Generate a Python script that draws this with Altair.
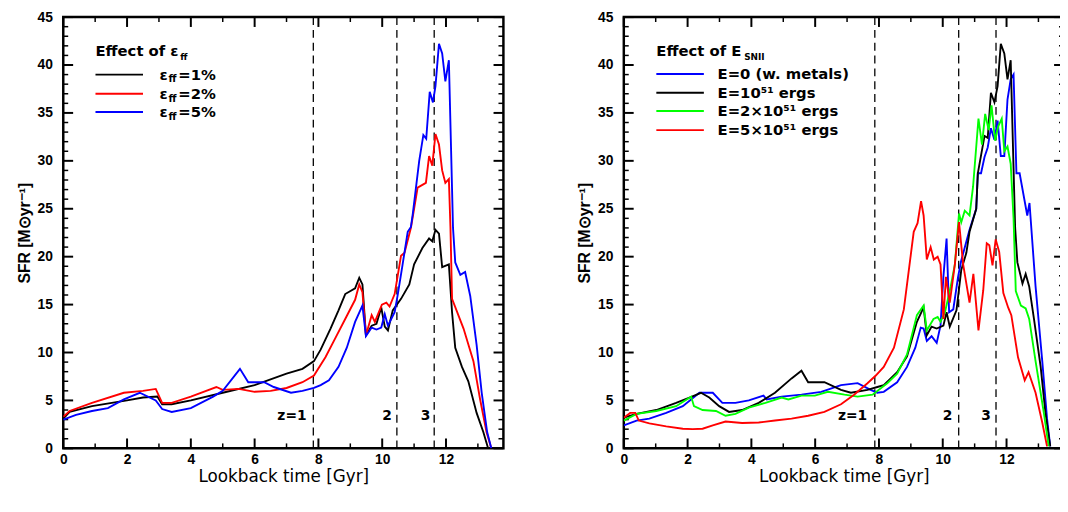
import altair as alt
import pandas as pd

# ---------------- data: left panel (effect of eps_ff) ----------------
t_eff1 = [0.0, 0.2, 0.9, 2.0, 2.5, 2.95, 3.1, 3.4, 4.0, 5.0, 6.0, 7.0, 7.5, 7.86, 8.07, 8.38, 8.63, 8.84,
          9.15, 9.28, 9.38, 9.49, 9.67, 9.82, 9.97, 10.08, 10.18, 10.33, 10.59, 10.85, 11.0, 11.26, 11.47,
          11.57, 11.67, 11.78, 11.88, 12.09, 12.19, 12.29, 12.5, 12.7, 12.96, 13.17, 13.32]
sfr_eff1 = [3.1, 3.8, 4.4, 5.0, 5.3, 5.4, 4.6, 4.6, 5.0, 5.8, 6.6, 7.8, 8.3, 9.1, 10.3, 12.5, 14.4, 16.1,
            16.7, 17.8, 17.1, 11.8, 12.8, 13.0, 14.7, 12.7, 12.3, 14.4, 15.6, 17.1, 19.2, 20.9, 21.9,
            21.6, 22.8, 22.4, 18.9, 19.2, 14.2, 10.5, 8.5, 7.0, 3.7, 1.7, 0.0]

t_eff2 = [0.0, 0.2, 0.9, 1.9, 2.5, 2.9, 3.1, 3.4, 4.0, 4.8, 5.0, 5.5, 6.0, 6.5, 7.0, 7.5, 7.86, 8.22, 8.53,
          8.84, 9.15, 9.28, 9.38, 9.49, 9.67, 9.77, 9.99, 10.13, 10.23, 10.39, 10.49, 10.59, 10.7, 10.9,
          11.0, 11.11, 11.37, 11.47, 11.57, 11.67, 11.78, 11.88, 11.98, 12.09, 12.14, 12.19, 12.55, 12.86,
          13.07, 13.27, 13.42]
sfr_eff2 = [3.3, 3.9, 4.75, 5.8, 6.0, 6.2, 4.75, 4.75, 5.4, 6.4, 6.1, 6.2, 5.9, 6.0, 6.3, 6.9, 7.6, 9.5, 11.5,
            13.5, 15.5, 17.1, 16.3, 11.8, 13.9, 13.2, 15.0, 15.2, 14.8, 16.1, 18.1, 20.1, 20.4, 23.0,
            25.0, 27.2, 27.7, 30.5, 29.5, 32.8, 31.7, 29.0, 27.7, 28.1, 23.0, 15.6, 12.5, 9.1,
            5.1, 1.7, 0.0]

t_eff5 = [0.0, 0.4, 0.9, 1.4, 1.9, 2.4, 2.9, 3.1, 3.4, 4.0, 4.7, 5.0, 5.54, 5.8, 6.3, 6.6, 7.14, 7.5, 7.86,
          8.07, 8.33, 8.63, 8.89, 9.15, 9.38, 9.49, 9.67, 9.82, 9.97, 10.08, 10.18, 10.39, 10.49, 10.64,
          10.8, 10.9, 10.96, 11.16, 11.29, 11.38, 11.49, 11.59, 11.67, 11.78, 11.88, 11.98, 12.09, 12.22,
          12.29, 12.45, 12.6, 12.76, 12.96, 13.12, 13.29, 13.42]
sfr_eff5 = [3.0, 3.5, 3.9, 4.2, 5.1, 5.8, 5.0, 4.1, 3.8, 4.2, 5.4, 6.0, 8.3, 6.9, 6.9, 6.4, 5.8, 6.0, 6.3,
            6.6, 7.1, 8.5, 10.5, 13.2, 14.9, 11.7, 12.6, 12.4, 12.6, 14.0, 12.8, 14.2, 16.1, 19.2,
            22.6, 23.1, 24.5, 30.0, 32.7, 32.3, 37.2, 36.1, 37.8, 42.2, 41.2, 38.3, 40.5, 23.0,
            19.4, 18.1, 18.4, 15.9, 10.8, 5.8, 1.7, 0.0]

# ---------------- data: right panel (effect of E_SNII) ----------------
t_e0 = [0.0, 0.4, 0.8, 1.33, 1.85, 2.37, 2.79, 3.09, 3.5, 3.92, 4.38, 4.48, 4.95, 5.57, 6.19, 6.81, 7.33,
        7.74, 7.95, 8.15, 8.57, 8.88, 9.14, 9.31, 9.4, 9.5, 9.65, 9.81, 9.93, 10.02, 10.12, 10.2, 10.33,
        10.48, 10.58, 10.84, 11.05, 11.1, 11.2, 11.31, 11.41, 11.51, 11.62, 11.72, 11.82, 11.93, 12.03,
        12.13, 12.22, 12.31, 12.41, 12.65, 12.72, 12.91, 13.12, 13.27, 13.37]
sfr_e0 = [2.4, 2.9, 3.1, 3.7, 4.4, 5.8, 5.8, 4.75, 4.75, 5.0, 5.5, 5.1, 5.4, 5.6, 5.9, 6.6, 6.8,
          6.1, 5.8, 5.9, 6.9, 8.5, 10.5, 12.6, 12.5, 11.2, 11.7, 11.0, 12.8, 17.9, 21.9, 14.2, 14.5,
          17.9, 19.6, 22.8, 25.0, 28.7, 28.7, 30.4, 31.4, 33.4, 32.2, 34.2, 30.5, 30.5, 36.4,
          38.5, 39.0, 28.7, 28.7, 24.3, 25.6, 16.9, 9.1, 3.1, 0.2]

t_e1 = [0.0, 0.4, 1.02, 1.64, 2.06, 2.42, 2.68, 2.99, 3.3, 3.71, 4.23, 4.74, 5.26, 5.57, 5.78, 6.29, 6.81,
        7.12, 7.64, 7.95, 8.15, 8.57, 8.88, 9.19, 9.4, 9.5, 9.65, 9.81, 10.02, 10.12, 10.22, 10.43, 10.58,
        10.74, 10.84, 11.05, 11.1, 11.31, 11.41, 11.51, 11.62, 11.72, 11.82, 11.93, 12.03, 12.13, 12.27,
        12.34, 12.5, 12.6, 12.71, 12.86, 13.07, 13.22, 13.37]
sfr_e1 = [3.2, 3.6, 4.0, 4.75, 5.3, 5.8, 5.3, 4.4, 3.8, 4.0, 4.75, 5.8, 7.3, 8.1, 6.9, 6.9, 6.1,
          5.8, 6.1, 6.4, 6.6, 7.95, 9.6, 13.2, 14.7, 11.8, 12.7, 12.5, 12.8, 14.2, 12.7, 14.4, 18.6,
          20.4, 22.6, 25.0, 28.7, 32.6, 32.4, 37.1, 36.1, 37.8, 42.2, 41.2, 38.5, 40.5, 23.0,
          19.4, 17.2, 18.2, 16.9, 13.5, 8.5, 3.7, 0.2]

t_e2 = [0.0, 0.4, 1.02, 1.64, 2.11, 2.2, 2.47, 2.89, 3.19, 3.5, 3.92, 4.44, 4.95, 5.16, 5.57, 5.99, 6.4,
        6.92, 7.33, 7.8, 8.26, 8.57, 8.88, 9.19, 9.4, 9.5, 9.71, 9.84, 9.93, 10.07, 10.25, 10.38, 10.51,
        10.58, 10.69, 10.84, 10.95, 11.12, 11.23, 11.33, 11.44, 11.53, 11.64, 11.74, 11.85, 11.93, 12.03,
        12.13, 12.22, 12.29, 12.45, 12.6, 12.71, 12.91, 13.17, 13.32]
sfr_e2 = [2.9, 3.6, 3.9, 4.4, 5.4, 4.4, 4.0, 3.9, 3.4, 3.6, 4.25, 4.75, 5.3, 5.1, 5.5, 5.5, 5.9,
          5.6, 5.4, 5.6, 6.8, 7.8, 9.8, 13.9, 14.9, 12.3, 13.5, 13.7, 13.2, 14.2, 16.9, 19.2, 24.5,
          23.6, 24.8, 24.3, 27.3, 34.4, 31.7, 34.9, 33.2, 35.8, 32.1, 33.6, 34.4, 31.0, 31.5,
          29.7, 24.0, 16.4, 14.9, 14.6, 13.5, 9.1, 3.7, 0.2]

t_e5 = [0.0, 0.2, 0.36, 0.47, 0.8, 1.33, 1.85, 2.16, 2.47, 2.79, 3.19, 3.71, 4.23, 4.74, 5.26, 5.78, 6.29,
        6.81, 7.22, 7.64, 7.9, 8.15, 8.47, 8.78, 9.09, 9.21, 9.32, 9.4, 9.5, 9.62, 9.72, 9.84, 9.93,
        10.02, 10.1, 10.22, 10.38, 10.51, 10.64, 10.84, 10.96, 11.12, 11.27, 11.38, 11.46, 11.56, 11.66,
        11.77, 11.9, 12.05, 12.15, 12.36, 12.57, 12.69, 12.91, 13.12, 13.27]
sfr_e5 = [3.2, 3.7, 3.7, 2.9, 2.6, 2.3, 2.05, 2.0, 2.05, 2.4, 2.8, 2.65, 2.7, 2.9, 3.1, 3.4, 3.8,
          4.6, 5.6, 6.8, 7.6, 8.5, 10.5, 14.5, 22.6, 23.5, 25.8, 24.3, 19.7, 21.0, 19.7, 20.0, 19.2,
          13.5, 17.9, 15.2, 19.2, 23.6, 19.2, 15.2, 18.2, 12.3, 16.5, 21.4, 21.2, 19.1, 21.8,
          20.5, 16.2, 14.7, 13.9, 9.5, 7.1, 7.95, 5.8, 2.7, 0.2]

# redshift markers
z_label_t = [7.17, 10.15, 11.36]
z_labels = ["z=1", "2", "3"]

# ticks
x_major = [0, 2, 4, 6, 8, 10, 12]
x_minor = [1, 3, 5, 7, 9, 11, 13]
y_major = [0, 5, 10, 15, 20, 25, 30, 35, 40, 45]
y_minor = [v for v in range(1, 45) if v % 5 != 0]

H = 437
YMAX = 45.0
W_L, XMAX_L = 446, 13.8
W_R, XMAX_R = 446, 13.8

LEG_FONT = "DejaVu Sans"

xaxis = alt.Axis(values=x_major, ticks=False, domain=False, grid=False, format="d",
                 labelFont="Liberation Sans Narrow, Liberation Sans", labelFontSize=14,
                 labelFontWeight="bold", labelColor="black", labelPadding=4, labelFlush=False,
                 title="Lookback time [Gyr]", titleFont="DejaVu Sans", titleFontSize=17,
                 titleFontWeight="normal", titleColor="black", titlePadding=3)
yaxis = alt.Axis(values=y_major, ticks=False, domain=False, grid=False, format="d",
                 labelFont="Liberation Sans", labelFontSize=14, labelFontWeight="bold",
                 labelColor="black", labelPadding=11, labelFlush=False,
                 title="SFR [M⊙yr⁻¹]", titleFont="Liberation Sans", titleFontSize=16,
                 titleFontWeight="bold", titleColor="black", titlePadding=5)
y_scale = alt.Scale(domain=[0, YMAX], nice=False)


def make_panel(W, XMAX, series, zlines, legend_spec):
    x_scale = alt.Scale(domain=[0, XMAX], nice=False, zero=False)
    X = lambda f: alt.X(f, type="quantitative", scale=x_scale, axis=xaxis)
    Y = lambda f: alt.Y(f, type="quantitative", scale=y_scale, axis=yaxis)
    XU = XMAX / W
    YU = YMAX / H
    layers = []

    # inward ticks on all four sides, drawn as short line segments
    for L, sw in [(10, 2.0), (5, 1.5)]:
        xs = x_major if L == 10 else x_minor
        ys = y_major if L == 10 else y_minor
        rows = []
        k = 0
        for v in xs:
            rows += [(k, v, 0.0), (k, v, L * YU)]; k += 1
            rows += [(k, v, YMAX), (k, v, YMAX - L * YU)]; k += 1
        for v in ys:
            rows += [(k, 0.0, v), (k, L * XU, v)]; k += 1
            rows += [(k, XMAX, v), (k, XMAX - L * XU, v)]; k += 1
        d = pd.DataFrame(rows, columns=["tid", "t", "sfr"])
        layers.append(alt.Chart(d).mark_line(color="black", strokeWidth=sw, strokeCap="butt").encode(
            x=X("t"), y=Y("sfr"), detail="tid:N"))

    # redshift markers
    dl = pd.DataFrame({"t": zlines})
    layers.append(alt.Chart(dl).mark_rule(color="black", strokeWidth=1.3, strokeDash=[8, 5]).encode(
        x=X("t")))
    dt = pd.DataFrame({"t": z_label_t, "sfr": [3.4] * 3, "lab": z_labels})
    layers.append(alt.Chart(dt).mark_text(font=LEG_FONT, fontSize=14, fontWeight="bold", color="black",
                                          align="center", baseline="middle").encode(
        x=X("t"), y=Y("sfr"), text="lab:N"))

    # data curves
    for ts, vs, col in series:
        df = pd.DataFrame({"t": ts, "sfr": vs})
        layers.append(alt.Chart(df).mark_line(color=col, strokeWidth=1.9, clip=True).encode(
            x=X("t"), y=Y("sfr")))

    # legend
    (title_main, title_sub, sub_dx, colors, pieces, y_rows, x0, x1, xt) = legend_spec
    dtitle = pd.DataFrame({"t": [x0], "sfr": [41.5], "lab": [title_main]})
    layers.append(alt.Chart(dtitle).mark_text(font=LEG_FONT, fontSize=15, fontWeight="bold",
                                              color="black", align="left", baseline="middle").encode(
        x=X("t"), y=Y("sfr"), text="lab:N"))
    dsub = pd.DataFrame({"t": [x0], "sfr": [41.5], "lab": [title_sub]})
    layers.append(alt.Chart(dsub).mark_text(font=LEG_FONT, fontSize=9, fontWeight="bold",
                                            color="black", align="left", baseline="middle",
                                            dx=sub_dx, dy=6).encode(
        x=X("t"), y=Y("sfr"), text="lab:N"))
    for yr, col in zip(y_rows, colors):
        d = pd.DataFrame({"t": [x0, x1], "sfr": [yr, yr]})
        layers.append(alt.Chart(d).mark_line(strokeWidth=1.9, color=col).encode(x=X("t"), y=Y("sfr")))
    for (text, dx, dy, size) in pieces:
        d = pd.DataFrame({"t": [xt] * len(y_rows), "sfr": y_rows, "lab": text})
        layers.append(alt.Chart(d).mark_text(font=LEG_FONT, fontSize=size, fontWeight="bold",
                                             color="black", align="left", baseline="middle",
                                             dx=dx, dy=dy).encode(
            x=X("t"), y=Y("sfr"), text="lab:N"))
    return alt.layer(*layers).properties(width=W, height=H)


left = make_panel(
    W_L, XMAX_L,
    [(t_eff1, sfr_eff1, "#000000"), (t_eff2, sfr_eff2, "#ff0000"), (t_eff5, sfr_eff5, "#0000ff")],
    [7.84, 10.46, 11.63],
    ("Effect of ε", "ff", 86, ["#000000", "#ff0000", "#0000ff"],
     [(["ε", "ε", "ε"], 0, 0, 15), (["ff", "ff", "ff"], 9, 5, 10), (["=1%", "=2%", "=5%"], 19, 0, 15)],
     [39.0, 37.0, 35.1], 1.01, 2.5, 3.02))

right = make_panel(
    W_R, XMAX_R,
    [(t_e0, sfr_e0, "#0000ff"), (t_e1, sfr_e1, "#000000"), (t_e2, sfr_e2, "#00ff00"),
     (t_e5, sfr_e5, "#ff0000")],
    [7.87, 10.5, 11.67],
    ("Effect of E", "SNII", 89, ["#0000ff", "#000000", "#00ff00", "#ff0000"],
     [(["E=0 (w. metals)", "E=10⁵¹ ergs", "E=2×10⁵¹ ergs", "E=5×10⁵¹ ergs"], 0, 0, 15)],
     [39.06, 37.1, 35.2, 33.2], 1.02, 2.51, 2.94))

chart = alt.hconcat(left, right, spacing=67).properties(
    padding={"left": 7, "top": -3, "right": -10, "bottom": 0},
    background="white",
).configure_view(stroke="black", strokeWidth=2.5)

chart.save("out.html", embed_options={"renderer": "svg", "actions": False})
